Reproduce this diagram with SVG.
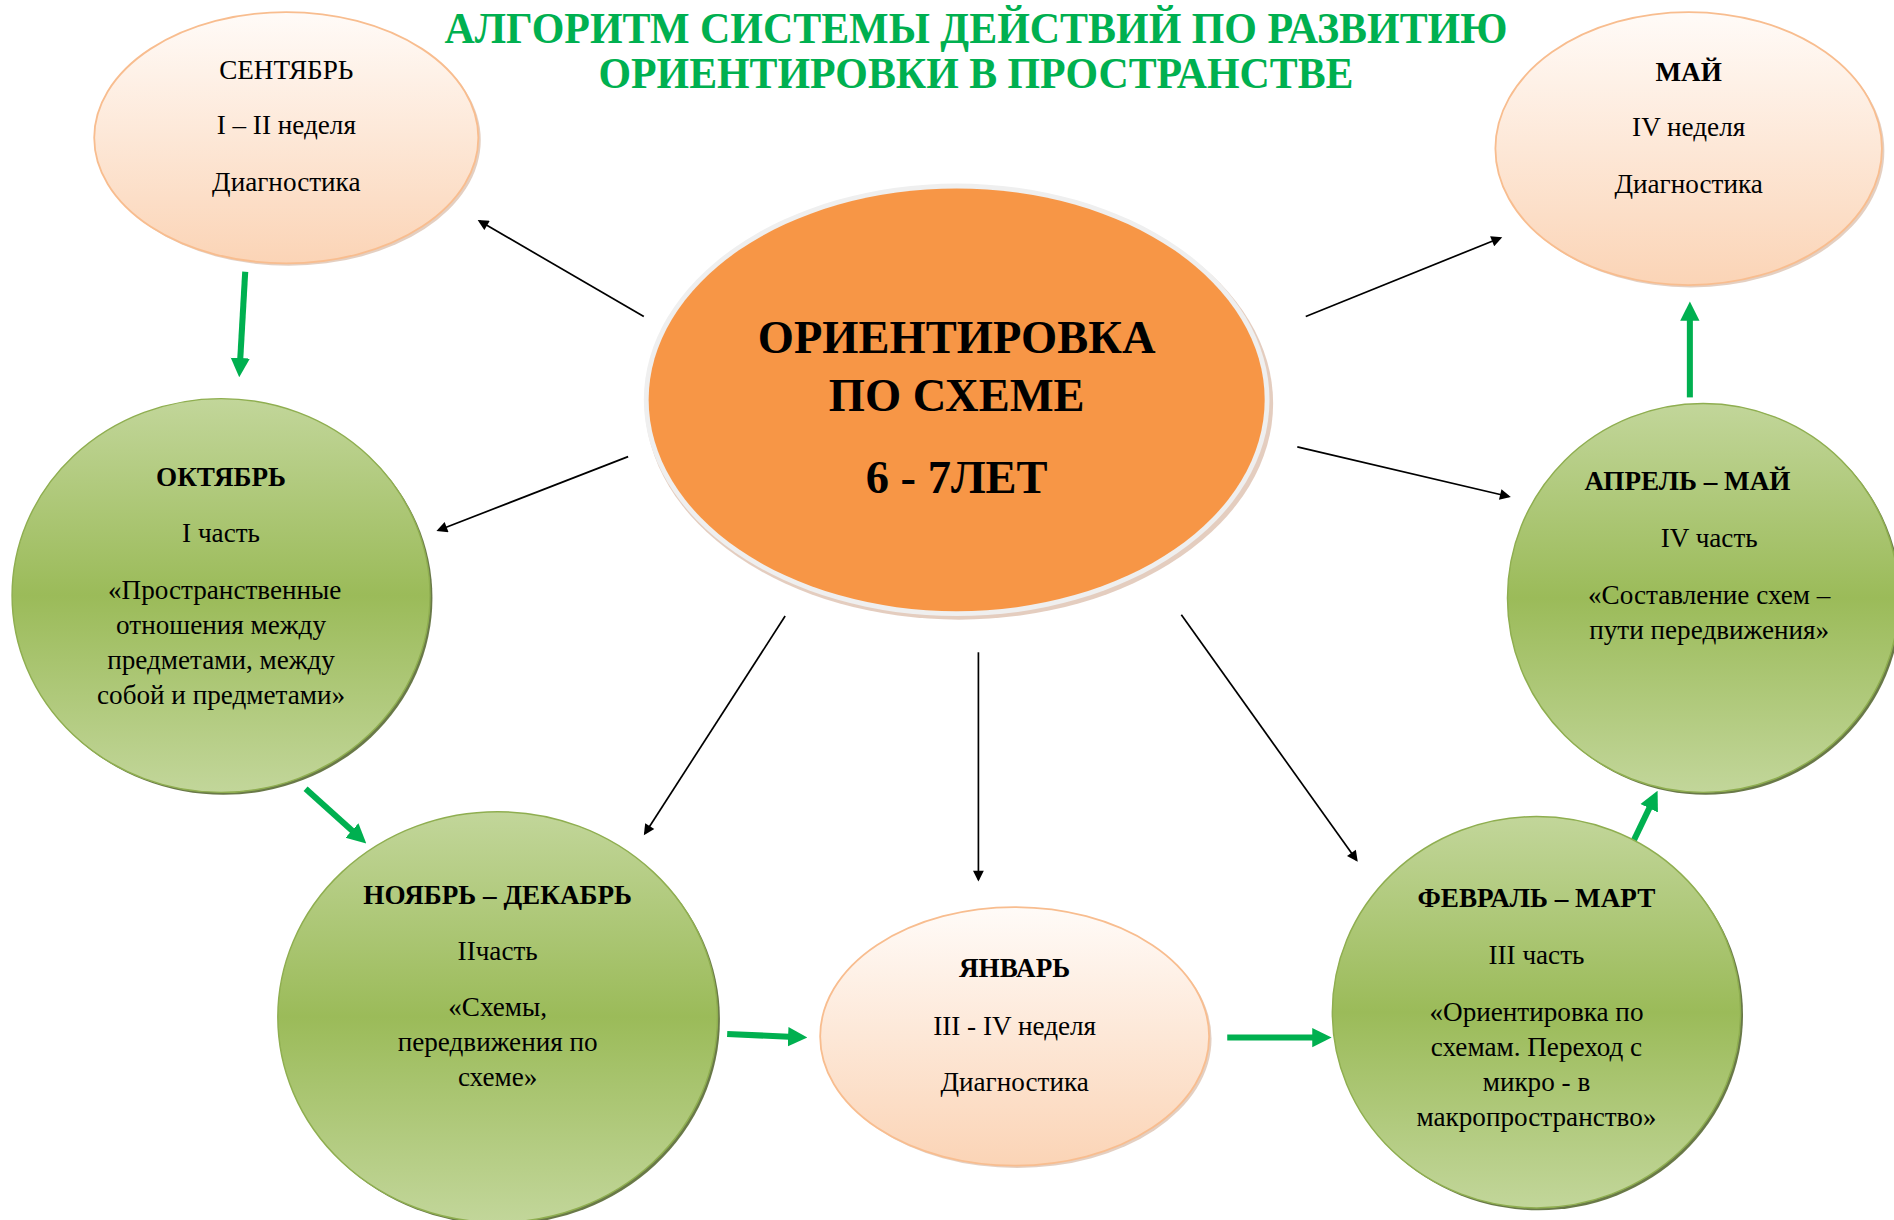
<svg xmlns="http://www.w3.org/2000/svg" width="1894" height="1220" viewBox="0 0 1894 1220">
<style>
.t{font-family:"Liberation Serif","Times New Roman",serif;font-size:22.5px;text-anchor:middle;fill:#000}
.b{font-weight:bold}
.title{font-family:"Liberation Serif","Times New Roman",serif;font-weight:bold;font-size:36px;text-anchor:middle;fill:#00b050}
.ct{font-family:"Liberation Serif","Times New Roman",serif;font-weight:bold;font-size:38.5px;text-anchor:middle;fill:#000}
.peach{fill:url(#gPeach);stroke:#f8bd8f;stroke-width:1.5}
.green{fill:url(#gGreen);stroke:#8fae50;stroke-width:1.2}
.shP{fill:#c9a084;opacity:0.5}
.shG{fill:#4f6228;opacity:0.85}
.blk{stroke:#000;stroke-width:1.4;fill:none;marker-end:url(#mB)}
.grn{stroke:#00b050;stroke-width:5;fill:none;marker-end:url(#mG)}
</style>
<defs>
<linearGradient id="gPeach" x1="0" y1="0" x2="0" y2="1">
<stop offset="0" stop-color="#fffbf8"/>
<stop offset="1" stop-color="#fbd4b6"/>
</linearGradient>
<linearGradient id="gGreen" x1="0" y1="0" x2="0" y2="1">
<stop offset="0" stop-color="#c2d69a"/>
<stop offset="0.5" stop-color="#9bbb59"/>
<stop offset="1" stop-color="#c2d69a"/>
</linearGradient>
<marker id="mB" viewBox="0 0 10 10" refX="8" refY="5" markerWidth="11" markerHeight="9" markerUnits="userSpaceOnUse" orient="auto">
<path d="M0,0 L10,5 L0,10 z" fill="#000"/>
</marker>
<marker id="mG" viewBox="0 0 10 10" refX="6" refY="5" markerWidth="16" markerHeight="18" markerUnits="userSpaceOnUse" orient="auto">
<path d="M0,0 L10,5 L0,10 z" fill="#00b050"/>
</marker>
</defs>
<rect width="1894" height="1220" fill="#fff"/>
<g transform="scale(1.20791)">
<g id="title">
<text class="title" x="808" y="36" textLength="880" lengthAdjust="spacingAndGlyphs">АЛГОРИТМ СИСТЕМЫ ДЕЙСТВИЙ ПО РАЗВИТИЮ</text>
<text class="title" x="808" y="73" textLength="625" lengthAdjust="spacingAndGlyphs">ОРИЕНТИРОВКИ В ПРОСТРАНСТВЕ</text>
</g>
<g id="connectors">
<line class="blk" x1="533" y1="262" x2="397" y2="183"/>
<line class="blk" x1="1081" y1="262" x2="1242" y2="197"/>
<line class="blk" x1="520" y1="378" x2="363" y2="439"/>
<line class="blk" x1="650" y1="510" x2="534" y2="690"/>
<line class="blk" x1="810" y1="540" x2="810" y2="728"/>
<line class="blk" x1="978" y1="509" x2="1123" y2="712"/>
<line class="blk" x1="1074" y1="370" x2="1249" y2="411"/>
<line class="grn" x1="203" y1="225" x2="198.4" y2="306"/>
<line class="grn" x1="253" y1="653" x2="298.5" y2="694"/>
<line class="grn" x1="602" y1="856" x2="662" y2="858.7"/>
<line class="grn" x1="1016" y1="859" x2="1096" y2="859"/>
<line class="grn" x1="1352" y1="697" x2="1369.5" y2="660.5"/>
<line class="grn" x1="1399" y1="329" x2="1399" y2="256"/>
</g>
<g id="center">
<ellipse cx="794" cy="334" rx="260" ry="179" fill="#c39072" opacity="0.45"/>
<ellipse cx="792" cy="331" rx="259" ry="179" fill="#efefef"/>
<ellipse cx="792" cy="331" rx="255" ry="175" fill="#f79646"/>
<text class="ct" x="792" y="292">ОРИЕНТИРОВКА</text>
<text class="ct" x="792" y="340">ПО СХЕМЕ</text>
<text class="ct" x="792" y="408">6 - 7ЛЕТ</text>
</g>
<g id="september">
<ellipse class="shP" cx="239" cy="116" rx="159" ry="104"/>
<ellipse class="peach" cx="237" cy="114" rx="159" ry="104"/>
<text class="t" x="237" y="65">СЕНТЯБРЬ</text>
<text class="t" x="237" y="111">I – II неделя</text>
<text class="t" x="237" y="158">Диагностика</text>
</g>
<g id="may">
<ellipse class="shP" cx="1400" cy="125" rx="160" ry="113"/>
<ellipse class="peach" cx="1398" cy="123" rx="160" ry="113"/>
<text class="t b" x="1398" y="67">МАЙ</text>
<text class="t" x="1398" y="113">IV неделя</text>
<text class="t" x="1398" y="160">Диагностика</text>
</g>
<g id="october">
<ellipse class="shG" cx="185" cy="495" rx="173" ry="163"/>
<ellipse class="green" cx="183" cy="493" rx="173" ry="163"/>
<text class="t b" x="183" y="402">ОКТЯБРЬ</text>
<text class="t" x="183" y="449">I часть</text>
<text class="t" x="186" y="496">«Пространственные</text>
<text class="t" x="183" y="525">отношения между</text>
<text class="t" x="183" y="554">предметами, между</text>
<text class="t" x="183" y="583">собой и предметами»</text>
</g>
<g id="nov-dec">
<ellipse class="shG" cx="414" cy="844" rx="182" ry="170"/>
<ellipse class="green" cx="412" cy="842" rx="182" ry="170"/>
<text class="t b" x="412" y="748">НОЯБРЬ – ДЕКАБРЬ</text>
<text class="t" x="412" y="795">IIчасть</text>
<text class="t" x="412" y="841">«Схемы,</text>
<text class="t" x="412" y="870">передвижения по</text>
<text class="t" x="412" y="899">схеме»</text>
</g>
<g id="january">
<ellipse class="shP" cx="842" cy="860" rx="161" ry="107"/>
<ellipse class="peach" cx="840" cy="858" rx="161" ry="107"/>
<text class="t b" x="840" y="809">ЯНВАРЬ</text>
<text class="t" x="840" y="857">III - IV неделя</text>
<text class="t" x="840" y="903">Диагностика</text>
</g>
<g id="feb-mar">
<ellipse class="shG" cx="1274" cy="840" rx="169" ry="162"/>
<ellipse class="green" cx="1272" cy="838" rx="169" ry="162"/>
<text class="t b" x="1272" y="751">ФЕВРАЛЬ – МАРТ</text>
<text class="t" x="1272" y="798">III часть</text>
<text class="t" x="1272" y="845">«Ориентировка по</text>
<text class="t" x="1272" y="874">схемам. Переход с</text>
<text class="t" x="1272" y="903">микро - в</text>
<text class="t" x="1272" y="932">макропространство»</text>
</g>
<g id="apr-may">
<ellipse class="shG" cx="1412" cy="497" rx="162" ry="161"/>
<ellipse class="green" cx="1410" cy="495" rx="162" ry="161"/>
<text class="t b" x="1397" y="406">АПРЕЛЬ – МАЙ</text>
<text class="t" x="1415" y="453">IV часть</text>
<text class="t" x="1415" y="500">«Составление схем –</text>
<text class="t" x="1415" y="529">пути передвижения»</text>
</g>
</g>
</svg>
